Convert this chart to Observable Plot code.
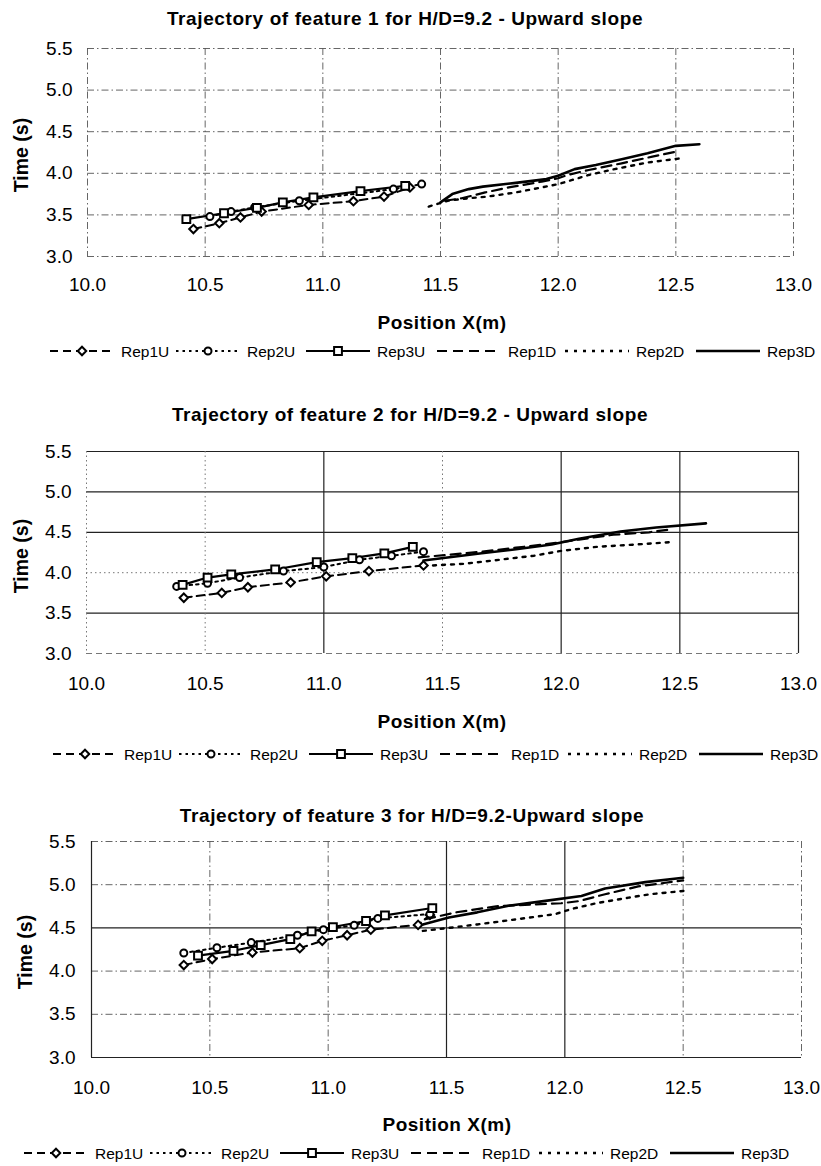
<!DOCTYPE html>
<html><head><meta charset="utf-8">
<script src="https://cdn.jsdelivr.net/npm/d3@7"></script>
<script src="https://cdn.jsdelivr.net/npm/@observablehq/plot@0.6"></script>
<style>
body{margin:0;background:#fff;}
#root{position:relative;width:821px;height:1166px;overflow:hidden;background:#fff;font-family:"Liberation Sans",Arial,Helvetica,sans-serif;}
.t{position:absolute;white-space:nowrap;color:#000;}
</style></head><body><div id="root"></div>
<script>
// ---------- data ----------
const xTicks = [10.0, 10.5, 11.0, 11.5, 12.0, 12.5, 13.0];
const yTicks = [3.0, 3.5, 4.0, 4.5, 5.0, 5.5];
const seriesNames = ["Rep1U", "Rep2U", "Rep3U", "Rep1D", "Rep2D", "Rep3D"];
const titles = [
  "Trajectory of feature 1 for H/D=9.2 - Upward slope",
  "Trajectory of feature 2 for H/D=9.2 - Upward slope",
  "Trajectory of feature 3 for H/D=9.2-Upward slope"
];
const xTitle = "Position X(m)";
const yTitle = "Time (s)";

// feature 1  [position X (m), time (s)]
const f1Rep1U = [[10.45,3.33],[10.56,3.40],[10.65,3.47],[10.74,3.54],[10.94,3.62],[11.13,3.665],[11.26,3.72],[11.37,3.83]];
const f1Rep2U = [[10.52,3.48],[10.61,3.54],[10.71,3.59],[10.90,3.67],[11.30,3.81],[11.42,3.87]];
const f1Rep3U = [[10.42,3.45],[10.58,3.52],[10.72,3.585],[10.83,3.65],[10.96,3.71],[11.16,3.785],[11.35,3.85]];
const f1Rep1D = [[11.52,3.67],[11.59,3.70],[11.69,3.77],[11.79,3.83],[11.93,3.90],[12.00,3.94],[12.04,3.98],[12.13,4.04],[12.27,4.12],[12.40,4.20],[12.50,4.26]];
const f1Rep2D = [[11.45,3.60],[11.53,3.67],[11.62,3.70],[11.70,3.72],[11.82,3.77],[11.93,3.83],[12.00,3.87],[12.06,3.92],[12.13,3.98],[12.24,4.05],[12.38,4.13],[12.52,4.18]];
const f1Rep3D = [[11.50,3.65],[11.55,3.75],[11.62,3.81],[11.68,3.84],[11.82,3.885],[11.95,3.93],[12.00,3.97],[12.07,4.05],[12.16,4.10],[12.27,4.17],[12.38,4.24],[12.50,4.33],[12.60,4.35]];

// feature 2
const f2Rep1U = [[10.41,3.69],[10.57,3.75],[10.68,3.82],[10.86,3.88],[11.01,3.955],[11.19,4.02],[11.42,4.09]];
const f2Rep2U = [[10.38,3.83],[10.51,3.87],[10.645,3.94],[10.83,4.02],[11.00,4.07],[11.15,4.16],[11.285,4.21],[11.42,4.26]];
const f2Rep3U = [[10.405,3.85],[10.51,3.94],[10.61,3.98],[10.795,4.04],[10.97,4.13],[11.12,4.18],[11.255,4.24],[11.375,4.32]];
const f2Rep1D = [[11.40,4.19],[11.52,4.22],[11.665,4.26],[11.81,4.31],[11.93,4.35],[12.075,4.41],[12.22,4.47],[12.37,4.50],[12.47,4.54]];
const f2Rep2D = [[11.46,4.09],[11.59,4.11],[11.74,4.16],[11.885,4.21],[12.00,4.27],[12.15,4.32],[12.32,4.35],[12.47,4.38]];
const f2Rep3D = [[11.42,4.15],[11.665,4.24],[11.81,4.29],[11.96,4.35],[12.075,4.42],[12.25,4.51],[12.40,4.56],[12.61,4.61]];

// feature 3
const f3Rep1U = [[10.39,4.07],[10.51,4.14],[10.68,4.215],[10.88,4.265],[10.975,4.35],[11.08,4.415],[11.18,4.48],[11.38,4.535],[11.43,4.65]];
const f3Rep2U = [[10.39,4.21],[10.53,4.27],[10.675,4.33],[10.87,4.415],[10.98,4.48],[11.11,4.53],[11.21,4.61],[11.43,4.66]];
const f3Rep3U = [[10.45,4.18],[10.60,4.235],[10.715,4.30],[10.84,4.37],[10.93,4.46],[11.02,4.51],[11.16,4.58],[11.24,4.645],[11.44,4.73]];
const f3Rep1D = [[11.41,4.60],[11.54,4.68],[11.71,4.75],[11.86,4.77],[11.985,4.785],[12.06,4.81],[12.17,4.89],[12.31,4.98],[12.50,5.05]];
const f3Rep2D = [[11.40,4.465],[11.51,4.50],[11.63,4.54],[11.77,4.59],[11.96,4.66],[12.03,4.72],[12.14,4.79],[12.27,4.85],[12.36,4.89],[12.51,4.93]];
const f3Rep3D = [[11.40,4.54],[11.51,4.62],[11.63,4.68],[11.77,4.76],[11.91,4.81],[12.07,4.87],[12.17,4.955],[12.34,5.03],[12.50,5.08]];

const features = [
  [f1Rep1U, f1Rep2U, f1Rep3U, f1Rep1D, f1Rep2D, f1Rep3D],
  [f2Rep1U, f2Rep2U, f2Rep3U, f2Rep1D, f2Rep2D, f2Rep3D],
  [f3Rep1U, f3Rep2U, f3Rep3U, f3Rep1D, f3Rep2D, f3Rep3D]
];

// ---------- styles & layout ----------
const W = 821;
const FONT = '"Liberation Sans", Arial, Helvetica, sans-serif';
const seriesStyle = [
  {dash: "8,5",  width: 2.0, symbol: "diamond2", r: 3.8},
  {dash: "2.5,4", width: 2.0, symbol: "circle",   r: 3.5},
  {dash: null,   width: 2.2, symbol: "square",   r: 4.4},
  {dash: "10,6", width: 2.2},
  {dash: "3,6",  width: 2.4},
  {dash: null,   width: 2.6}
];
const gridStyle = {
  solid:   {stroke: "#222", strokeWidth: 1.2},
  dashdot: {stroke: "#555", strokeWidth: 0.9, strokeDasharray: "7,3,1.5,3"},
  dotted:  {stroke: "#777", strokeWidth: 1,   strokeDasharray: "1.5,3"},
  dashed:  {stroke: "#777", strokeWidth: 1,   strokeDasharray: "6,4"}
};
const charts = [
  {left: 87, right: 793, top: 48, bottom: 256, xPad: 21, yPad: 15,
   titleY: 18.5, titleX: 405, xTitleY: 322, xTitleX: 442, yTitleX: 22, yTitleY: 155, legendY: 350.5, legendX: 50,
   hGrid: [["dashdot", yTicks]], vGrid: [["dashdot", xTicks]]},
  {left: 86, right: 798, top: 451, bottom: 653, xPad: 23, yPad: 15,
   titleY: 414, titleX: 410, xTitleY: 721, xTitleX: 442, yTitleX: 22, yTitleY: 556, legendY: 753.5, legendX: 53,
   hGrid: [["dashed", [3.0]], ["dotted", [4.0]], ["solid", [3.5, 4.5, 5.0, 5.5]]],
   vGrid: [["dotted", [10.0, 10.5, 11.5]], ["solid", [11.0, 12.0, 12.5, 13.0]]]},
  {left: 91, right: 801, top: 841, bottom: 1057, xPad: 23, yPad: 16,
   titleY: 815, titleX: 412, xTitleY: 1124, xTitleX: 447, yTitleX: 26, yTitleY: 952, legendY: 1152.5, legendX: 24,
   hGrid: [["dashdot", [3.5, 4.0, 5.0, 5.5]], ["solid", [3.0, 4.5]]],
   vGrid: [["dashdot", [10.5, 11.0, 12.5, 13.0]], ["solid", [10.0, 11.5, 12.0]]]}
];
const legendOffsets = [0, 126, 256, 387, 515, 646];

const root = document.getElementById("root");

function addText(txt, x, capCenter, size, weight, opts = {}) {
  const d = document.createElement("div");
  d.className = "t";
  d.textContent = txt;
  d.style.fontSize = size + "px";
  d.style.lineHeight = size + "px";
  d.style.fontWeight = weight;
  if (opts.ls) d.style.letterSpacing = opts.ls + "px";
  d.style.left = x + "px";
  if (opts.rotate) {
    d.style.top = capCenter + "px";
    d.style.transform = "translate(-50%,-50%) rotate(-90deg)";
  } else {
    d.style.top = (capCenter - 0.49 * size) + "px";
    d.style.transform = "translateX(-50%)";
  }
  root.appendChild(d);
}

charts.forEach((c, ci) => {
  const MT = 12, MB = 50;
  const H = (c.bottom - c.top) + MT + MB;
  const data = features[ci];
  const marks = [];
  for (const [st, ticks] of c.hGrid) marks.push(Plot.ruleY(ticks, {...gridStyle[st]}));
  for (const [st, ticks] of c.vGrid) marks.push(Plot.ruleX(ticks, {...gridStyle[st]}));
  data.forEach((ser, si) => {
    const s = seriesStyle[si];
    const o = {x: d => d[0], y: d => d[1], stroke: "#000", strokeWidth: s.width, curve: "linear"};
    if (s.dash) o.strokeDasharray = s.dash;
    marks.push(Plot.line(ser, o));
  });
  data.forEach((ser, si) => {
    const s = seriesStyle[si];
    if (s.symbol) marks.push(Plot.dot(ser, {x: d => d[0], y: d => d[1], symbol: s.symbol, r: s.r, fill: "#fff", stroke: "#000", strokeWidth: 2}));
  });
  const svg = Plot.plot({
    width: W, height: H,
    marginLeft: c.left, marginRight: W - c.right, marginTop: MT, marginBottom: MB,
    style: {fontSize: "19px", fontFamily: FONT, color: "#000", background: "transparent", overflow: "visible"},
    x: {domain: [10, 13], ticks: xTicks, tickFormat: d3.format(".1f"), tickSize: 0, tickPadding: c.xPad, label: null},
    y: {domain: [3, 5.5], ticks: yTicks, tickFormat: d3.format(".1f"), tickSize: 0, tickPadding: c.yPad, label: null},
    marks
  });
  svg.style.position = "absolute";
  svg.style.left = "0px";
  svg.style.top = (c.top - MT) + "px";
  root.appendChild(svg);

  addText(titles[ci], c.titleX, c.titleY, 19, "bold", {ls: 0.6});
  addText(xTitle, c.xTitleX, c.xTitleY, 19, "bold", {ls: 0.5});
  addText(yTitle, c.yTitleX, c.yTitleY, 19.5, "bold", {rotate: true});

  // legend
  const lg = d3.create("svg").attr("width", W).attr("height", 24)
    .style("position", "absolute").style("left", "0px").style("top", (c.legendY - 12) + "px");
  seriesNames.forEach((name, si) => {
    const s = seriesStyle[si];
    const x0 = c.legendX + legendOffsets[si];
    const yy = 12;
    lg.append("line").attr("x1", x0).attr("x2", x0 + 64).attr("y1", yy).attr("y2", yy)
      .attr("stroke", "#000").attr("stroke-width", s.width)
      .attr("stroke-dasharray", s.dash || null);
    if (s.symbol) {
      const sym = {diamond2: d3.symbolDiamond2, circle: d3.symbolCircle, square: d3.symbolSquare}[s.symbol];
      lg.append("path").attr("d", d3.symbol(sym, Math.PI * s.r * s.r)())
        .attr("transform", `translate(${x0 + 32},${yy})`)
        .attr("fill", "#fff").attr("stroke", "#000").attr("stroke-width", 2);
    }
    lg.append("text").attr("x", x0 + 71).attr("y", yy).attr("dy", "0.36em")
      .attr("font-family", FONT).attr("font-size", 15.5).attr("fill", "#000").text(name);
  });
  root.appendChild(lg.node());
});
</script>
</body></html>
